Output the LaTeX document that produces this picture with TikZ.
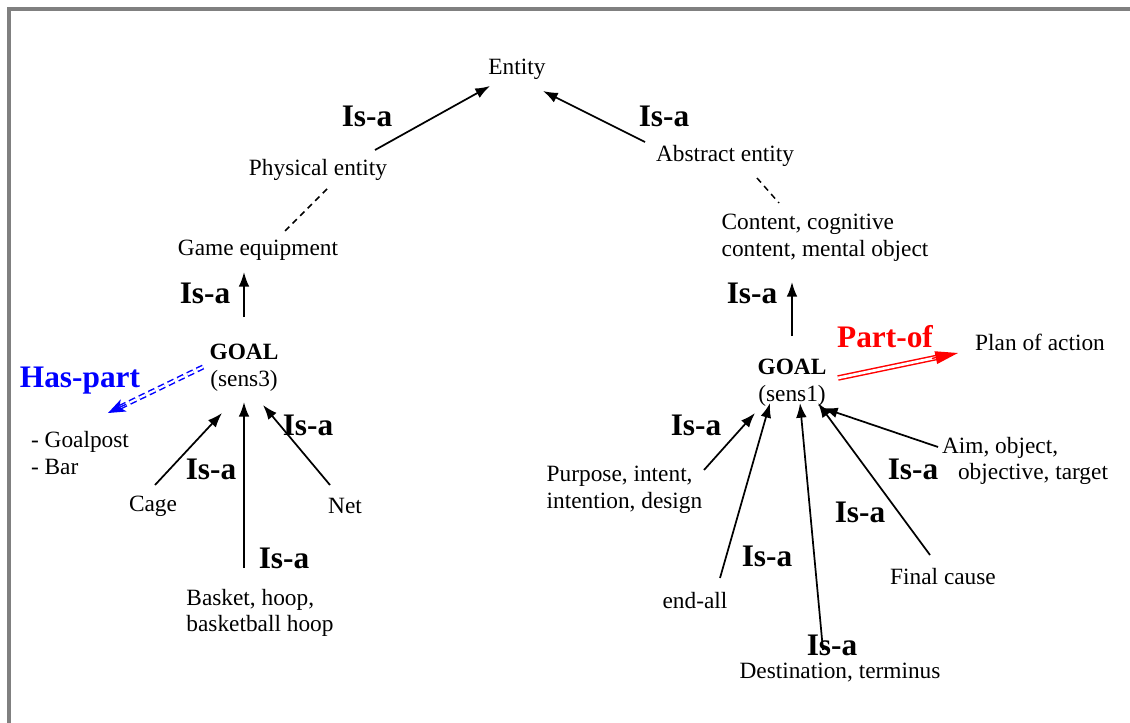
\documentclass[tikz,border=0pt]{standalone}
\usepackage{fontspec}
\setmainfont{Liberation Serif}
\usetikzlibrary{arrows.meta,calc}
\begin{document}
\begin{tikzpicture}[x=0.75pt,y=-0.75pt,
  lbl/.style={inner sep=0pt, font=\fontsize{17.5}{20}\selectfont},
  isalbl/.style={inner sep=0pt, font=\fontsize{23.5}{28}\selectfont\bfseries},
  isarrow/.style={line width=1.3pt, -{Latex[length=11pt,width=8pt]}},
  weak/.style={line width=1.1pt, dash pattern=on 4.5pt off 3.5pt},
  haspart/.style={draw=blue, line width=1.1pt, double=white, double distance=1.6pt, dash pattern=on 5pt off 3pt},
  partof/.style={draw=red, line width=1.1pt, double=white, double distance=2pt},
]
\useasboundingbox (0,0) rectangle (1130,723);
\fill[white] (0,0) rectangle (1130,723);
% frame
\draw[line width=3pt, gray] (8.7,723) -- (8.7,8.7) -- (1130,8.7);

% concepts
\node[lbl] (ent) at (517,69) {Entity};
\node[lbl] (phys) at (318,170) {Physical entity};
\node[lbl] (abs) at (725,156) {Abstract entity};
\node[lbl] (game) at (258,250) {Game equipment};
\node[lbl, align=left] (content) at (825,238) {Content, cognitive\\content, mental object};
\node[lbl, align=center] (g3) at (244,368) {\textbf{GOAL}\\(sens3)};
\node[lbl, align=center] (g1) at (792,383) {\textbf{GOAL}\\(sens1)};
\node[lbl] (plan) at (1040,342) {Plan of action};
\node[lbl, align=left] (parts) at (80,453) {- Goalpost\\- Bar};
\node[lbl] (cage) at (153,506) {Cage};
\node[lbl] (net) at (345,506) {Net};
\node[lbl, align=left] (basket) at (260,613) {Basket, hoop,\\basketball hoop};
\node[lbl, align=left] (purpose) at (624.5,490) {Purpose, intent,\\intention, design};
\node[lbl, align=left] (aim) at (1025,461) {Aim, object,\\\hspace*{12pt}objective, target};
\node[lbl] (final) at (943,577) {Final cause};
\node[lbl] (endall) at (695,601) {end-all};
\node[lbl] (dest) at (840,673) {Destination, terminus};

% relation labels
\node[isalbl] (i1) at (367,116) {Is-a};
\node[isalbl] (i2) at (664,116) {Is-a};
\node[isalbl] (i3) at (205,293) {Is-a};
\node[isalbl] (i4) at (752,293) {Is-a};
\node[isalbl] (i5) at (308,425) {Is-a};
\node[isalbl] (i6) at (211,469) {Is-a};
\node[isalbl] (i7) at (284,558) {Is-a};
\node[isalbl] (i8) at (696,425) {Is-a};
\node[isalbl] (i9) at (767,556) {Is-a};
\node[isalbl] (i10) at (832,645) {Is-a};
\node[isalbl] (i11) at (860,512) {Is-a};
\node[isalbl] (i12) at (913,469) {Is-a};
\node[isalbl, text=blue] (hp) at (80,381) {Has-part};
\node[isalbl, text=red] (po) at (885,337) {Part-of};

% is-a links
\draw[isarrow] ($(phys)+(57,-20)$) -- ($(ent)+(-27,17)$);
\draw[isarrow] ($(abs)+(-80,-14)$) -- ($(ent)+(26,22)$);
\draw[weak] ($(phys)+(9,19)$) -- ($(game)+(27,-19)$);
\draw[weak] ($(abs)+(32,22)$) -- ($(content)+(-46,-35)$);
\draw[isarrow] ($(g3)+(0,-51)$) -- ($(game)+(-14,22)$);
\draw[isarrow] ($(g1)+(0,-47)$) -- ($(content)+(-33,44)$);
\draw[isarrow] ($(cage)+(2,-21)$) -- ($(g3)+(-22,45)$);
\draw[isarrow] ($(basket)+(-16,-45)$) -- ($(g3)+(0,34)$);
\draw[isarrow] ($(net)+(-15,-21)$) -- ($(g3)+(19,37)$);
\draw[isarrow] ($(purpose)+(79.5,-20)$) -- ($(g1)+(-37,30)$);
\draw[isarrow] ($(endall)+(25,-23)$) -- ($(g1)+(-22,20)$);
\draw[isarrow] ($(dest)+(-17,-23)$) -- ($(g1)+(8,20)$);
\draw[isarrow] ($(final)+(-13,-22)$) -- ($(g1)+(26,20)$);
\draw[isarrow] ($(aim)+(-87,-14)$) -- ($(g1)+(31,25)$);

% has-part link
\coordinate (hpA) at ($(g3)+(-41,-1)$);
\coordinate (hpB) at ($(parts)+(28,-40)$);
\draw[haspart] (hpA) -- ($(hpB)!9pt!(hpA)$);
\draw[blue, line width=1pt, -{Stealth[length=13pt,width=10pt,inset=3.5pt]}] ($(hpB)!15pt!(hpA)$) -- (hpB);

% part-of link
\coordinate (poA) at ($(g1)+(46,-5)$);
\coordinate (poB) at ($(plan)+(-82,11)$);
\draw[partof] (poA) -- ($(poB)!15pt!(poA)$);
\draw[red, line width=1pt, -{Triangle[length=17pt,width=9.5pt]}] ($(poB)!20pt!(poA)$) -- (poB);
\end{tikzpicture}
\end{document}
